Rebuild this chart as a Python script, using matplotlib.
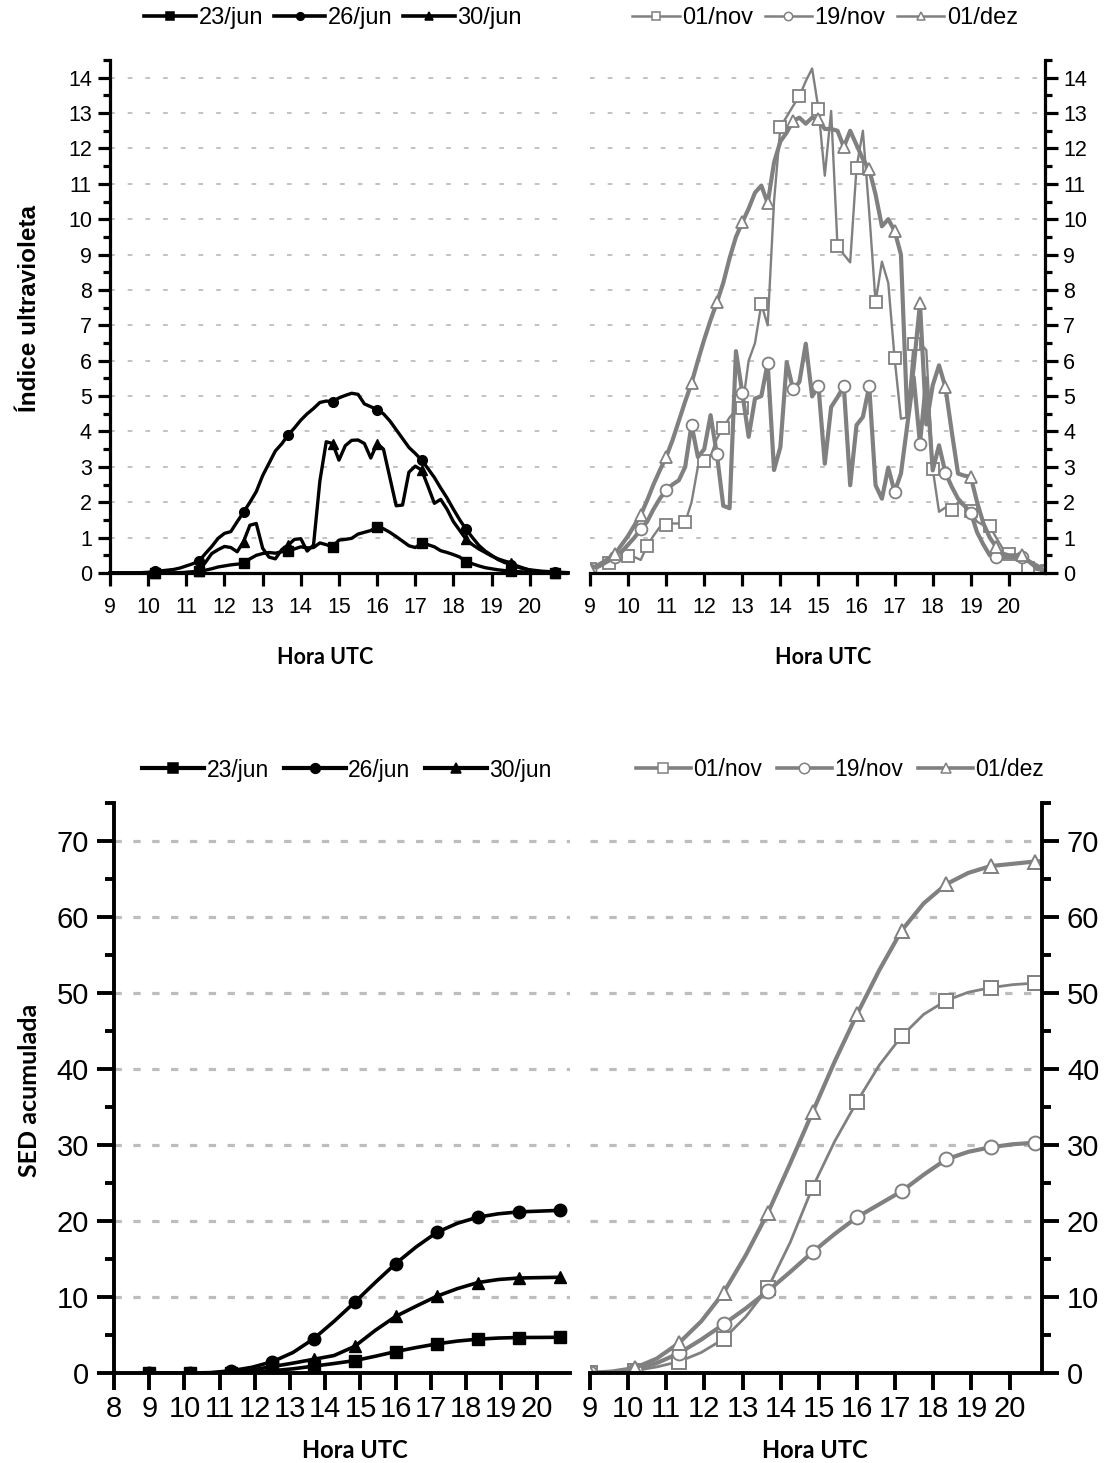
import numpy as np
import matplotlib
matplotlib.use("Agg")
import matplotlib.pyplot as plt
from matplotlib.ticker import MultipleLocator
from matplotlib.lines import Line2D

# ---------------------------------------------------------------- data
# UV index sampled every 10 minutes, 09:00 .. 21:00 UTC
hora_uv = 9 + np.arange(73) / 6.0

uv_23jun = [0, 0, 0, 0, 0, 0, 0, 0, 0, 0, 0, 0.01, 0.02,
            0.03, 0.05, 0.08, 0.12, 0.17, 0.2, 0.23, 0.25, 0.27, 0.4, 0.5, 0.55,
            0.58, 0.56, 0.6, 0.63, 0.68, 0.74, 0.71, 0.72, 0.85, 0.8, 0.74, 0.93,
            0.95, 0.98, 1.1, 1.15, 1.2, 1.31, 1.25, 1.15, 1.03, 0.9, 0.77, 0.72,
            0.84, 0.8, 0.74, 0.63, 0.58, 0.52, 0.45, 0.32, 0.26, 0.2, 0.15, 0.12,
            0.09, 0.07, 0.05, 0.04, 0.03, 0.02, 0.02, 0.01, 0.01, 0, 0, 0]
uv_26jun = [0, 0, 0, 0, 0, 0.01, 0.02,
            0.05, 0.06, 0.08, 0.1, 0.14, 0.2, 0.26, 0.34, 0.55, 0.75, 0.98, 1.12,
            1.17, 1.45, 1.72, 2.0, 2.3, 2.75, 3.1, 3.45, 3.65, 3.9, 4.1, 4.32,
            4.5, 4.65, 4.82, 4.86, 4.84, 4.95, 5.02, 5.08, 5.05, 4.78, 4.7, 4.62,
            4.5, 4.3, 4.05, 3.8, 3.55, 3.38, 3.19, 2.95, 2.7, 2.4, 2.12, 1.8,
            1.5, 1.23, 1.0, 0.78, 0.62, 0.5, 0.38, 0.3, 0.24, 0.17, 0.12, 0.09,
            0.07, 0.05, 0.04, 0.03, 0.02, 0.01]
uv_30jun = [0, 0, 0, 0, 0, 0, 0, 0, 0, 0, 0, 0, 0.01,
            0.03, 0.06, 0.3, 0.55, 0.66, 0.75, 0.72, 0.6, 0.89, 1.35, 1.4, 0.7,
            0.45, 0.4, 0.66, 0.79, 0.95, 0.97, 0.62, 0.79, 2.6, 3.71, 3.66, 3.19,
            3.6, 3.75, 3.76, 3.66, 3.25, 3.66, 3.5, 2.7, 1.9, 1.92, 2.85, 3.02,
            2.91, 2.45, 1.97, 2.08, 1.8, 1.45, 1.2, 0.95, 0.8, 0.68, 0.58, 0.48,
            0.4, 0.34, 0.29, 0.2, 0.14, 0.08, 0.05, 0.03, 0.02, 0.01, 0, 0]

uv_01nov = [0.1, 0.15, 0.22, 0.29, 0.35, 0.42, 0.48, 0.45, 0.37, 0.77,
            1.05, 1.3, 1.35, 1.4, 1.4, 1.43, 2.0, 3.0, 3.17, 3.3,
            3.8, 4.11, 4.4, 4.6, 4.67, 6.0, 6.5, 7.6, 7.0, 10.5,
            12.61, 12.9, 13.2, 13.48, 13.9, 14.26, 13.12, 11.23, 13.06, 9.24,
            9.0, 8.78, 11.46, 12.5, 10.2, 7.65, 8.8, 8.2, 6.07, 4.36,
            4.4, 6.48, 6.5, 6.3, 2.95, 1.73, 1.85, 1.78, 2.0, 1.9,
            1.75, 1.45, 1.35, 1.33, 1.0, 0.7, 0.55, 0.5, 0.4, 0.13,
            0.1, 0.08, 0.05]
uv_19nov = [0.08, 0.15, 0.25, 0.35, 0.46, 0.6, 0.8, 1.0, 1.24, 1.45,
            1.8, 2.1, 2.34, 2.5, 2.62, 3.0, 4.19, 3.28, 3.5, 4.46,
            3.35, 1.9, 1.83, 6.27, 5.09, 3.85, 4.93, 5.0, 5.94, 2.91,
            3.56, 5.96, 5.19, 5.4, 6.48, 4.99, 5.28, 3.09, 4.69, 4.97,
            5.28, 2.48, 4.18, 4.41, 5.28, 2.48, 2.1, 2.98, 2.29, 2.81,
            4.18, 5.54, 3.66, 5.5, 2.9, 3.61, 2.84, 2.44, 2.1, 1.9,
            1.71, 1.15, 0.8, 0.5, 0.45, 0.45, 0.45, 0.45, 0.46, 0.35,
            0.25, 0.15, 0.08]
uv_01dez = [0.1, 0.2, 0.3, 0.42, 0.55, 0.8, 1.05, 1.35, 1.64, 2.05,
            2.5, 2.9, 3.28, 3.75, 4.3, 4.85, 5.37, 6.0, 6.6, 7.15,
            7.65, 8.2, 8.9, 9.5, 9.91, 10.3, 10.75, 10.95, 10.45, 11.6,
            12.2, 12.45, 12.78, 12.87, 12.7, 12.87, 12.82, 12.55, 12.55, 12.5,
            12.04, 12.5, 12.1, 11.7, 11.41, 10.7, 9.8, 10.0, 9.67, 9.0,
            4.4, 5.8, 7.62, 4.2, 5.3, 5.87, 5.26, 4.0, 2.81, 2.75,
            2.72, 2.0, 1.4, 1.0, 0.74, 0.55, 0.5, 0.5, 0.51, 0.35,
            0.2, 0.1, 0.05]

# accumulated SED, every 35 minutes from 09:00 UTC
min_sed_jun = [0, 35, 70, 105, 140, 175, 210, 245, 280, 315, 350,
               385, 420, 455, 490, 525, 560, 595, 630, 665, 700]
min_sed_nov = min_sed_jun + [720]

sed_23jun = [0, 0, 0, 0, 0.02, 0.12, 0.3, 0.55, 0.9, 1.25, 1.63,
             2.2, 2.82, 3.35, 3.83, 4.2, 4.45, 4.6, 4.67, 4.68, 4.7]
sed_26jun = [0, 0, 0, 0.05, 0.3, 0.75, 1.49, 2.7, 4.49, 6.8, 9.3,
             11.9, 14.4, 16.6, 18.5, 19.7, 20.5, 20.95, 21.2, 21.3, 21.4]
sed_30jun = [0, 0, 0, 0.03, 0.1, 0.4, 0.85, 1.3, 1.8, 2.3, 3.5,
             5.6, 7.45, 8.8, 10.1, 11.1, 11.9, 12.3, 12.5, 12.55, 12.6]

sed_01nov = [0, 0.05, 0.3, 0.8, 1.5, 2.7, 4.47, 7.4, 11.2, 17.2, 24.4,
             30.5, 35.7, 40.5, 44.3, 47.2, 49.0, 50.1, 50.7, 51.1, 51.3, 51.4]
sed_19nov = [0, 0.1, 0.45, 1.3, 2.6, 4.4, 6.4, 8.5, 10.8, 13.3, 15.9,
             18.3, 20.5, 22.2, 23.9, 26.1, 28.1, 29.1, 29.7, 30.1, 30.3, 30.4]
sed_01dez = [0, 0.2, 0.65, 1.9, 3.95, 6.8, 10.55, 15.5, 21.1, 27.6, 34.3,
             41.0, 47.2, 53.0, 58.2, 61.8, 64.3, 65.8, 66.7, 67.0, 67.3, 67.4]

rotulos_jun = ["23/jun", "26/jun", "30/jun"]
rotulos_nov = ["01/nov", "19/nov", "01/dez"]

# ---------------------------------------------------------------- style
TICK_FONT = "Liberation Sans"
LABEL_FONT = "Lato"
CINZA = "#808080"
GRADE = "#bdbdbd"

W, H = 1105, 1463
fig = plt.figure(figsize=(W / 100, H / 100), dpi=100)


def rect(l, t, r, b):
    return [l / W, 1 - b / H, (r - l) / W, (b - t) / H]


ax_tl = fig.add_axes(rect(110, 60, 566, 573))
ax_tr = fig.add_axes(rect(590, 60, 1045, 573))
ax_bl = fig.add_axes(rect(114, 803, 570, 1373))
ax_br = fig.add_axes(rect(590, 803, 1042, 1373))


def estilo(ax, lado, fs, spine_lw, tlen, grade_lw, grade_dash, maj, minor,
           ymax, xpad, ypad):
    for s in ["top", "right", "left", "bottom"]:
        ax.spines[s].set_visible(False)
    for s in ["bottom", lado]:
        ax.spines[s].set_visible(True)
        ax.spines[s].set_linewidth(spine_lw)
    if lado == "right":
        ax.yaxis.tick_right()
    else:
        ax.yaxis.tick_left()
    ax.xaxis.tick_bottom()
    ax.set_ylim(0, ymax)
    ax.yaxis.set_major_locator(MultipleLocator(maj))
    ax.yaxis.set_minor_locator(MultipleLocator(minor))
    ax.tick_params(axis="both", which="major", direction="out", length=tlen,
                   width=spine_lw, labelsize=fs)
    ax.tick_params(axis="x", which="major", pad=xpad)
    ax.tick_params(axis="y", which="major", pad=ypad)
    ax.tick_params(axis="y", which="minor", direction="out",
                   length=tlen * 0.55, width=spine_lw)
    for lab in ax.get_xticklabels() + ax.get_yticklabels():
        lab.set_fontfamily(TICK_FONT)
    ax.yaxis.grid(True, which="major", color=GRADE, lw=grade_lw,
                  linestyle=(0, grade_dash))
    ax.set_axisbelow(True)


# ------------------------------------------------------------ UV index
for ax in (ax_tl, ax_tr):
    ax.set_xlim(9, 20.95)
    ax.set_xticks(range(9, 21))

kw_jun = dict(color="black", lw=2.4, ms=7, markevery=(7, 7), clip_on=False)
ax_tl.plot(hora_uv, uv_23jun, marker="s", **kw_jun)
ax_tl.plot(hora_uv, uv_26jun, marker="o", **kw_jun)
ax_tl.plot(hora_uv, uv_30jun, marker="^", **kw_jun)

kw_nov = dict(color=CINZA, mfc="white", mec=CINZA, mew=1.3, ms=8.5)
ax_tr.plot(hora_uv, uv_01nov, marker="s", lw=1.7, markevery=3, **kw_nov)
ax_tr.plot(hora_uv, uv_19nov, marker="o", lw=3.0, markevery=4, **kw_nov)
ax_tr.plot(hora_uv, uv_01dez, marker="^", lw=3.0, markevery=4, **kw_nov)

for ax, lado in ((ax_tl, "left"), (ax_tr, "right")):
    estilo(ax, lado, 15.5, 2.3, 9, 1.3, (2.6, 7.2), 1, 0.5, 14.5, 8, 4)

# ------------------------------------------------------ accumulated SED
ax_bl.set_xlim(8, 20.95)
ax_bl.set_xticks(range(8, 21))
ax_br.set_xlim(9, 20.85)
ax_br.set_xticks(range(9, 21))

hora_jun = 9 + np.array(min_sed_jun) / 60.0
hora_nov = 9 + np.array(min_sed_nov) / 60.0

kw_bj = dict(color="black", lw=2.6, ms=9, markevery=2)
ax_bl.plot(hora_jun, sed_23jun, marker="s", **kw_bj)
ax_bl.plot(hora_jun, sed_26jun, marker="o", **kw_bj)
ax_bl.plot(hora_jun, sed_30jun, marker="^", **kw_bj)

kw_bn = dict(color=CINZA, mfc="white", mec=CINZA, mew=1.4, ms=10, markevery=2)
ax_br.plot(hora_nov, sed_01nov, marker="s", lw=2.0, **kw_bn)
ax_br.plot(hora_nov, sed_19nov, marker="o", lw=3.0, **kw_bn)
ax_br.plot(hora_nov, sed_01dez, marker="^", lw=3.0, **kw_bn)

for ax, lado in ((ax_bl, "left"), (ax_br, "right")):
    estilo(ax, lado, 21, 2.8, 12, 2.3, (2.3, 3.6), 10, 5, 75, 4, 6)

# ---------------------------------------------------------------- legends
def legenda(y, xc, rot, cor, mfc, lw, ms, fs, hl, cs):
    marcas = ["s", "o", "^"]
    hs = [Line2D([0], [0], color=cor, lw=lw, marker=m, ms=ms, mfc=mfc,
                 mec=cor, mew=1.1) for m in marcas]
    fig.legend(hs, rot, loc="center", bbox_to_anchor=(xc / W, 1 - y / H),
               ncol=3, frameon=False, numpoints=1, handlelength=hl,
               handletextpad=0.1, columnspacing=cs, borderpad=0,
               borderaxespad=0, prop=dict(family=TICK_FONT, size=fs))


legenda(18, 333, rotulos_jun, "black", "black", 2.6, 5.5, 17, 2.2, 0.45)
legenda(18, 825, rotulos_nov, CINZA, "white", 1.8, 6, 17, 2.0, 0.5)
legenda(770, 347, rotulos_jun, "black", "black", 3.0, 7, 16.5, 2.7, 0.65)
legenda(770, 840, rotulos_nov, CINZA, "white", 2.6, 7.5, 16.5, 2.4, 0.65)

# ---------------------------------------------------------------- labels
fig.text(30 / W, 1 - 308 / H, "Índice ultravioleta", rotation=90,
         ha="center", va="center", family=TICK_FONT, weight="bold", size=17.5)
fig.text(30 / W, 1 - 1090 / H, "SED acumulada", rotation=90,
         ha="center", va="center", family=LABEL_FONT, weight="bold", size=18)
for x, y, s in [(325, 658, 15.5), (823, 658, 15.5), (355, 1450, 17),
                (815, 1450, 17)]:
    fig.text(x / W, 1 - y / H, "Hora UTC", ha="center", va="center",
             family=LABEL_FONT, weight="bold", size=s)

fig.savefig("out.png", dpi=100)
